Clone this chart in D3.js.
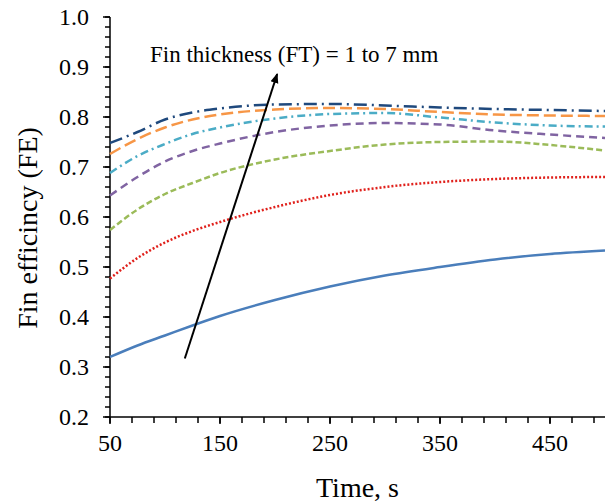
<!DOCTYPE html>
<html>
<head>
<meta charset="utf-8">
<script src="https://d3js.org/d3.v7.min.js"></script>
<style>
  body { margin: 0; background: #fff; }
  svg text { font-family: "Liberation Serif", "Times New Roman", serif; fill: #000; }
</style>
</head>
<body>
<div id="chart"></div>
<script>
// time values (s)
var times = [50, 75, 100, 125, 150, 200, 250, 300, 350, 400, 450, 500];

// fin efficiency for each fin thickness
var ft1 = [0.320, 0.343, 0.363, 0.383, 0.402, 0.434, 0.461, 0.483, 0.500, 0.515, 0.526, 0.533];
var ft2 = [0.477, 0.518, 0.549, 0.572, 0.590, 0.620, 0.644, 0.660, 0.670, 0.676, 0.679, 0.680];
var ft3 = [0.574, 0.615, 0.646, 0.668, 0.688, 0.715, 0.732, 0.745, 0.750, 0.751, 0.744, 0.733];
var ft4 = [0.643, 0.680, 0.711, 0.732, 0.747, 0.770, 0.783, 0.788, 0.785, 0.773, 0.765, 0.758];
var ft5 = [0.688, 0.722, 0.746, 0.766, 0.779, 0.797, 0.806, 0.808, 0.799, 0.789, 0.783, 0.781];
var ft6 = [0.726, 0.756, 0.779, 0.795, 0.805, 0.815, 0.818, 0.816, 0.810, 0.805, 0.803, 0.802];
var ft7 = [0.748, 0.770, 0.795, 0.809, 0.817, 0.825, 0.826, 0.823, 0.819, 0.816, 0.814, 0.812];

var xTickLabels = [50, 150, 250, 350, 450];
var yTickLabels = [0.2, 0.3, 0.4, 0.5, 0.6, 0.7, 0.8, 0.9, 1.0];

var series = [
  {values: ft1, color: "#4a7ebb", dash: null},
  {values: ft2, color: "#e0201b", dash: "2,2"},
  {values: ft3, color: "#9bbb59", dash: "6,3"},
  {values: ft4, color: "#8064a2", dash: "8,5"},
  {values: ft5, color: "#4bacc6", dash: "8,4,2,4"},
  {values: ft6, color: "#f79646", dash: "12,5"},
  {values: ft7, color: "#1f497d", dash: "13,5,2,5"}
];

var serif = "'Liberation Serif', 'Times New Roman', serif";
var width = 605, height = 502;
var margin = {top: 17, right: 0, bottom: 85, left: 110};

var svg = d3.select("#chart")
  .append("svg")
  .attr("width", width)
  .attr("height", height);

var x = d3.scaleLinear()
  .domain([50, 500])
  .range([margin.left, width - margin.right]);
var y = d3.scaleLinear()
  .domain([0.2, 1.0])
  .range([height - margin.bottom, margin.top]);

// minor ticks
var xMinor = d3.range(50, 501, 20);
var yMinor = d3.range(0, 41).map(function(i) { return +(0.2 + i * 0.02).toFixed(2); });

var gx = svg.append("g")
  .attr("transform", "translate(0," + y(0.2) + ")");
gx.selectAll(".minor").data(xMinor).enter().append("line")
  .attr("x1", function(d) { return x(d); })
  .attr("x2", function(d) { return x(d); })
  .attr("y1", 0).attr("y2", 6)
  .attr("stroke", "#000").attr("stroke-width", 1.5);
gx.selectAll(".major").data(xTickLabels).enter().append("line")
  .attr("x1", function(d) { return x(d); })
  .attr("x2", function(d) { return x(d); })
  .attr("y1", 0).attr("y2", 7)
  .attr("stroke", "#000").attr("stroke-width", 1.5);
gx.selectAll("text").data(xTickLabels).enter().append("text")
  .attr("x", function(d) { return x(d); })
  .attr("y", 34)
  .attr("text-anchor", "middle")
  .style("font-family", serif)
  .style("font-size", "24px")
  .text(function(d) { return d; });
gx.append("line")
  .attr("x1", x(50)).attr("x2", x(500))
  .attr("stroke", "#000").attr("stroke-width", 1.5);

var gy = svg.append("g")
  .attr("transform", "translate(" + x(50) + ",0)");
gy.selectAll(".minor").data(yMinor).enter().append("line")
  .attr("y1", function(d) { return y(d); })
  .attr("y2", function(d) { return y(d); })
  .attr("x1", -5).attr("x2", 0)
  .attr("stroke", "#000").attr("stroke-width", 1.5);
gy.selectAll(".major").data(yTickLabels).enter().append("line")
  .attr("y1", function(d) { return y(d); })
  .attr("y2", function(d) { return y(d); })
  .attr("x1", -7).attr("x2", 0)
  .attr("stroke", "#000").attr("stroke-width", 1.5);
gy.selectAll("text").data(yTickLabels).enter().append("text")
  .attr("x", -21)
  .attr("y", function(d) { return y(d); })
  .attr("dy", "0.33em")
  .attr("text-anchor", "end")
  .style("font-family", serif)
  .style("font-size", "24px")
  .text(function(d) { return d.toFixed(1); });
gy.append("line")
  .attr("y1", y(0.2)).attr("y2", y(1.0))
  .attr("stroke", "#000").attr("stroke-width", 1.5);

// lines
var line = d3.line()
  .x(function(d, i) { return x(times[i]); })
  .y(function(d) { return y(d); })
  .curve(d3.curveMonotoneX);

svg.selectAll(".series").data(series).enter().append("path")
  .attr("class", "series")
  .attr("d", function(s) { return line(s.values); })
  .attr("fill", "none")
  .attr("stroke", function(s) { return s.color; })
  .attr("stroke-width", 2.5)
  .attr("stroke-dasharray", function(s) { return s.dash; });

// axis titles
svg.append("text")
  .attr("x", (x(50) + x(500)) / 2)
  .attr("y", 497)
  .attr("text-anchor", "middle")
  .style("font-family", serif)
  .style("font-size", "28px")
  .text("Time, s");
svg.append("text")
  .attr("transform", "translate(37," + 228 + ") rotate(-90)")
  .attr("text-anchor", "middle")
  .style("font-family", serif)
  .style("font-size", "28px")
  .text("Fin efficincy (FE)");

// annotation arrow
svg.append("defs").append("marker")
  .attr("id", "head")
  .attr("viewBox", "0 0 10 10")
  .attr("refX", 9).attr("refY", 5)
  .attr("markerWidth", 5).attr("markerHeight", 5)
  .attr("orient", "auto")
  .append("path")
  .attr("d", "M0,1 L10,5 L0,9 z")
  .attr("fill", "#000");

svg.append("line")
  .attr("x1", x(118)).attr("y1", y(0.317))
  .attr("x2", x(202)).attr("y2", y(0.886))
  .attr("stroke", "#000")
  .attr("stroke-width", 2)
  .attr("marker-end", "url(#head)");

svg.append("text")
  .attr("x", 150)
  .attr("y", 62)
  .style("font-family", serif)
  .style("font-size", "23px")
  .text("Fin thickness (FT) = 1 to 7 mm");
</script>
</body>
</html>
